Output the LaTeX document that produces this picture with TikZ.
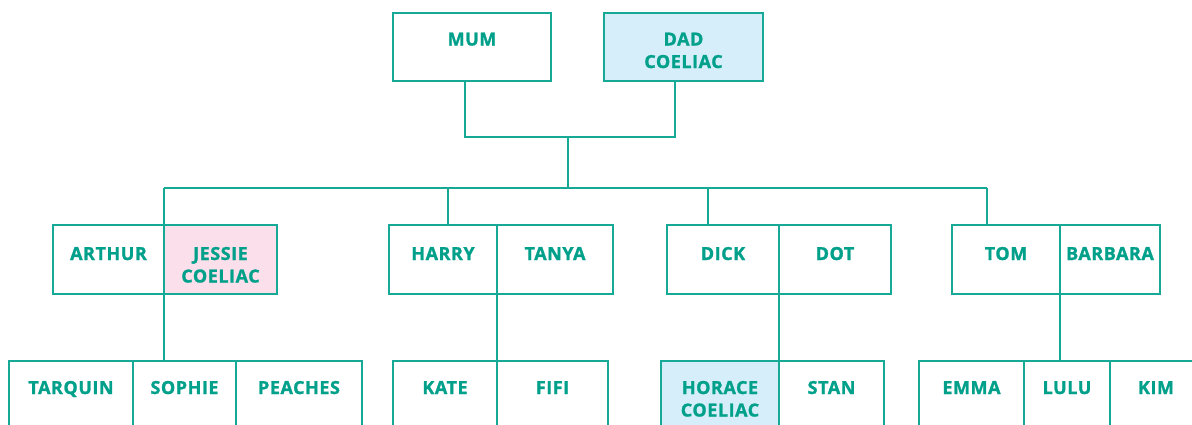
\documentclass[tikz,border=0pt]{standalone}
\usepackage{fontspec}
\newfontfamily\namefont{Open Sans}[LetterSpace=3, FakeBold=1.2]
\definecolor{famteal}{RGB}{22,170,150}
\definecolor{famtext}{RGB}{0,160,138}
\definecolor{famblue}{RGB}{213,238,249}
\definecolor{fampink}{RGB}{251,223,234}
\tikzset{
  cellbox/.style={draw=famteal, line width=1.6pt, inner sep=0pt, outer sep=0pt, rectangle},
  nametext/.style={text=famtext, font=\namefont\bfseries\fontsize{18}{22.5}\selectfont, inner sep=0pt, anchor=base},
  link/.style={draw=famteal, line width=1.6pt}
}
\newcommand\famcell[8]{%
  \node[cellbox, fill=#6, minimum width={(#3-#2)*1pt}, minimum height={(#5-#4)*1pt}] (#1) at ({(#2+#3)/2},{(#4+#5)/2}) {};
  \node[nametext] (#1-t) at ([yshift=-#7pt]#1.north) {\begin{tabular}[t]{@{}c@{}}#8\end{tabular}};
}
\begin{document}
\begin{tikzpicture}[x=1pt,y=-1pt]
\useasboundingbox (0,0) rectangle (1192,424);
\clip (0,0) rectangle (1192,424);
% row 1
\famcell{mum}{393}{551}{13}{81}{white}{32.5}{MUM}
\famcell{dad}{604}{763}{13}{81}{famblue}{32.5}{DAD\\COELIAC}
% row 2
\famcell{arthur}{53}{164}{225}{294}{white}{35}{ARTHUR}
\famcell{jessie}{164}{277}{225}{294}{fampink}{35}{JESSIE\\COELIAC}
\famcell{harry}{389}{497}{225}{294}{white}{35}{HARRY}
\famcell{tanya}{497}{613}{225}{294}{white}{35}{TANYA}
\famcell{dick}{667}{779}{225}{294}{white}{35}{DICK}
\famcell{dot}{779}{891}{225}{294}{white}{35}{DOT}
\famcell{tom}{952}{1060}{225}{294}{white}{35}{TOM}
\famcell{barbara}{1060}{1160}{225}{294}{white}{35}{BARBARA}
% row 3
\famcell{tarquin}{9}{133}{361}{450}{white}{33}{TARQUIN}
\famcell{sophie}{133}{236}{361}{450}{white}{33}{SOPHIE}
\famcell{peaches}{236}{362}{361}{450}{white}{33}{PEACHES}
\famcell{kate}{393}{497}{361}{450}{white}{33}{KATE}
\famcell{fifi}{497}{608}{361}{450}{white}{33}{FIFI}
\famcell{horace}{661}{779}{361}{450}{famblue}{33}{HORACE\\COELIAC}
\famcell{stan}{779}{884}{361}{450}{white}{33}{STAN}
\famcell{emma}{919}{1024}{361}{450}{white}{33}{EMMA}
\famcell{lulu}{1024}{1110}{361}{450}{white}{33}{LULU}
\node[cellbox, fill=white, minimum width=130pt, minimum height=89pt] (kim) at (1175,405.5) {};
\node[nametext] (kim-t) at (1156,394) {KIM};
% connectors
\coordinate (mumlink) at ([xshift=-7pt]mum.south);
\coordinate (dadlink) at ([xshift=-8.5pt]dad.south);
\coordinate (pj) at (568,137);
\coordinate (hl) at (568,188);
\coordinate (harrylink) at ([xshift=5pt]harry.north);
\coordinate (dicklink) at ([xshift=-15pt]dick.north);
\coordinate (tomlink) at ([xshift=-19pt]tom.north);
\draw[link] (mumlink) |- (pj) -| (dadlink);
\draw[link] (pj) -- (hl);
\draw[link] (arthur.north east |- hl) -- (tomlink |- hl);
\draw[link] (arthur.north east |- hl) -- (arthur.north east);
\draw[link] (harrylink |- hl) -- (harrylink);
\draw[link] (dicklink |- hl) -- (dicklink);
\draw[link] (tomlink |- hl) -- (tomlink);
\draw[link] (jessie.south west) -- (jessie.south west |- sophie.north);
\draw[link] (tanya.south west) -- (kate.north east);
\draw[link] (dot.south west) -- (horace.north east);
\draw[link] (barbara.south west) -- (barbara.south west |- lulu.north);
\end{tikzpicture}
\end{document}
